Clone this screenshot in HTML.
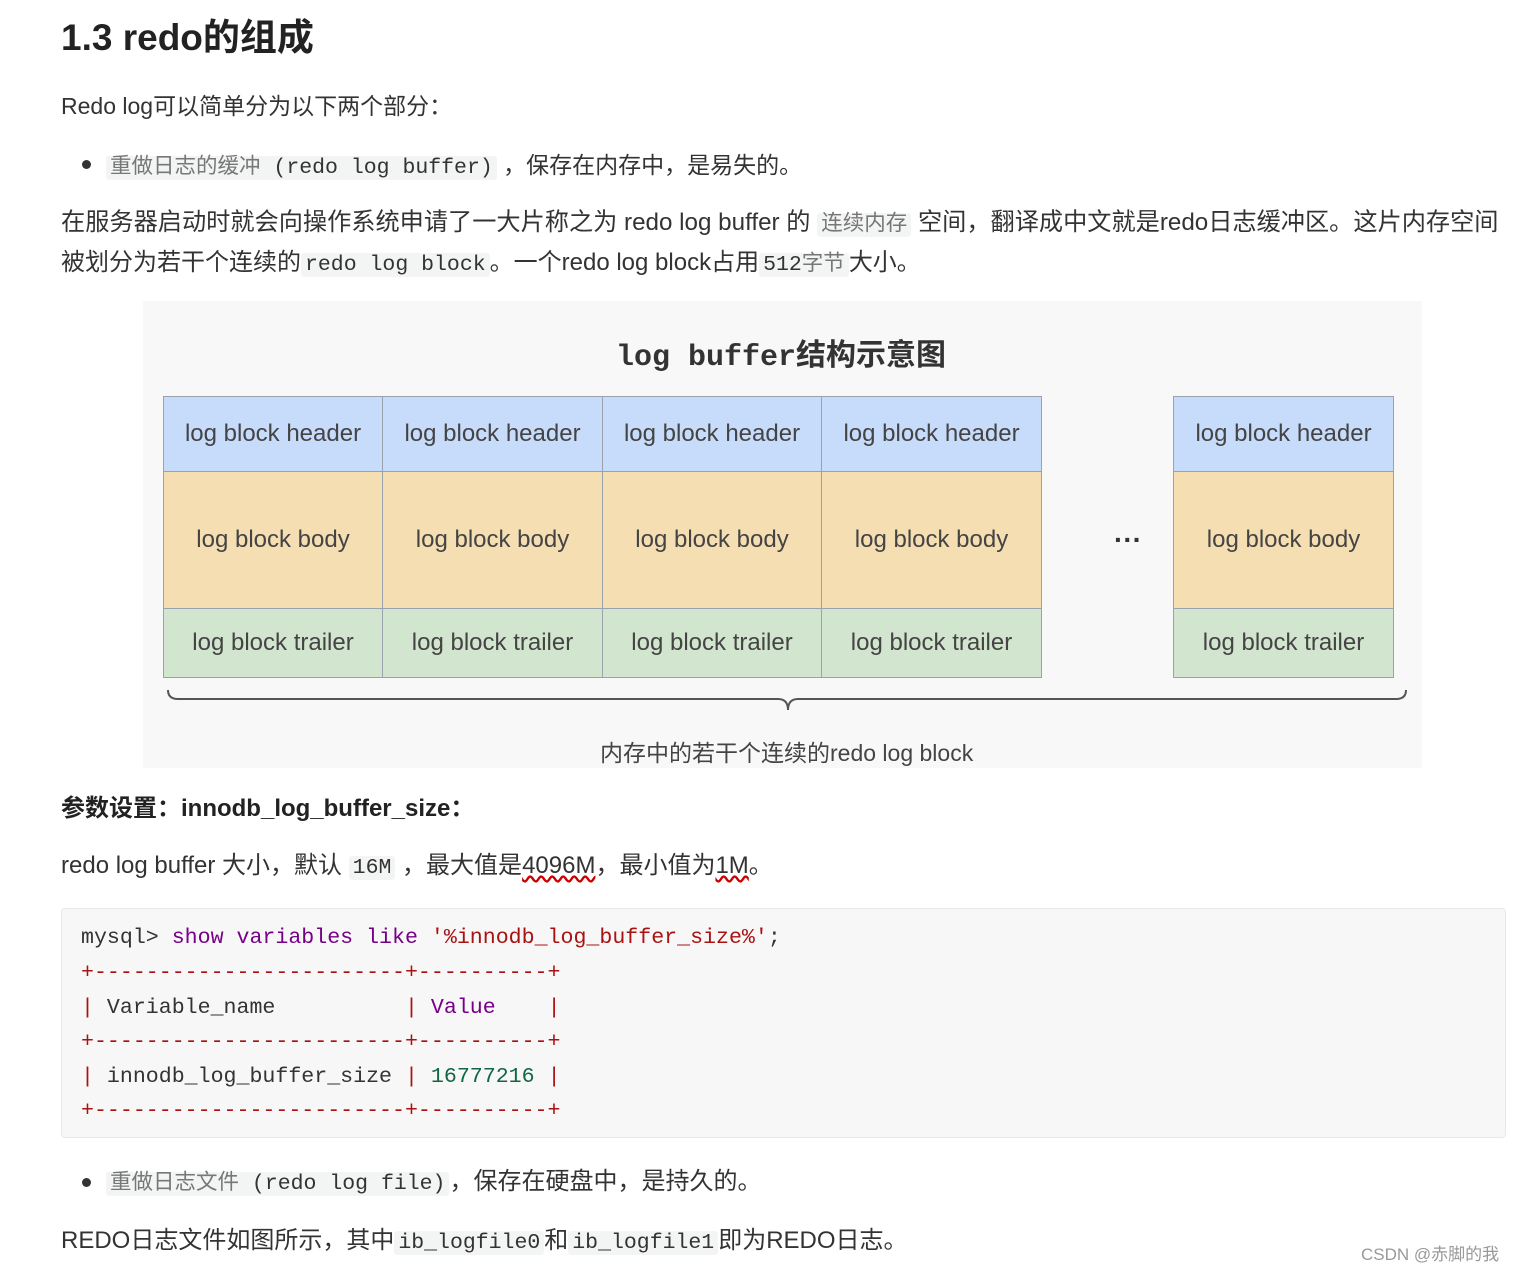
<!DOCTYPE html>
<html><head><meta charset="utf-8"><style>
body{margin:0;width:1513px;height:1269px;background:#fff;position:relative;overflow:hidden;font-family:"Liberation Sans","Noto Sans CJK SC",sans-serif;color:#333;}
.a{position:absolute;white-space:nowrap;}
.t{font-size:23px;line-height:32px;}
code{font-family:"Liberation Mono","Noto Sans CJK SC",monospace;background:#f3f4f4;border-radius:3px;padding:0 4px;font-size:21.5px;color:#333;}
.cg{color:#777;}
.dot{position:absolute;width:9px;height:9px;border-radius:50%;background:#333;}
.cell{position:absolute;box-sizing:border-box;border:1px solid #9aa3ad;display:flex;align-items:center;justify-content:center;font-size:24px;color:#444;}
.h{background:#c7dcfa;}.b{background:#f6deb3;}.r{background:#d2e5ce;}
.code{position:absolute;left:61px;top:908px;width:1445px;height:230px;background:#f7f7f7;border:1px solid #e8e8e8;border-radius:4px;box-sizing:border-box;}
.cl{position:absolute;left:19px;font-family:"Liberation Mono",monospace;font-size:21.6px;white-space:pre;color:#333;}
.kw{color:#770088}.st{color:#aa1111}.n{color:#116644}.p{color:#a11}
</style></head><body>
<div class="a" style="left:61px;top:14px;font-size:37px;font-weight:bold;color:#222;line-height:48px;">1.3 redo的组成</div>
<div class="a t" style="left:61px;top:90px;">Redo log可以简单分为以下两个部分：</div>
<div class="dot" style="left:82px;top:160px;"></div>
<div class="a t" style="left:106px;top:149px;"><code><span class="cg">重做日志的缓冲</span> (redo log buffer)</code> ，保存在内存中，是易失的。</div>
<div class="a t" style="left:61px;top:207px;font-size:24.2px;"><span>在服务器启动时就会向操作系统申请了一大片称之为 redo log buffer 的 <code class="cg">连续内存</code> 空间，翻译成中文就是redo日志缓冲区。这片内存空间</span></div>
<div class="a t" style="left:61px;top:247px;font-size:24px;">被划分为若干个连续的<code>redo log block</code>。一个redo log block占用<code>512<span class="cg">字节</span></code>大小。</div>

<div class="a" style="left:143px;top:301px;width:1279px;height:467px;background:#f8f8f8;"></div>
<div class="a" style="left:616px;top:330px;font-size:30px;font-weight:bold;color:#333;font-family:'Liberation Mono','Noto Sans CJK SC',monospace;">log buffer<span style="font-family:'Noto Sans CJK SC',sans-serif">结构示意图</span></div>

<div class="cell h" style="left:163px;top:396px;width:220px;height:76px;">log block header</div>
<div class="cell h" style="left:382px;top:396px;width:221px;height:76px;">log block header</div>
<div class="cell h" style="left:602px;top:396px;width:220px;height:76px;">log block header</div>
<div class="cell h" style="left:821px;top:396px;width:221px;height:76px;">log block header</div>
<div class="cell h" style="left:1173px;top:396px;width:221px;height:76px;">log block header</div>
<div class="cell b" style="left:163px;top:471px;width:220px;height:138px;">log block body</div>
<div class="cell b" style="left:382px;top:471px;width:221px;height:138px;">log block body</div>
<div class="cell b" style="left:602px;top:471px;width:220px;height:138px;">log block body</div>
<div class="cell b" style="left:821px;top:471px;width:221px;height:138px;">log block body</div>
<div class="cell b" style="left:1173px;top:471px;width:221px;height:138px;">log block body</div>
<div class="cell r" style="left:163px;top:608px;width:220px;height:70px;">log block trailer</div>
<div class="cell r" style="left:382px;top:608px;width:221px;height:70px;">log block trailer</div>
<div class="cell r" style="left:602px;top:608px;width:220px;height:70px;">log block trailer</div>
<div class="cell r" style="left:821px;top:608px;width:221px;height:70px;">log block trailer</div>
<div class="cell r" style="left:1173px;top:608px;width:221px;height:70px;">log block trailer</div>
<div class="a" style="left:1114px;top:524px;font-size:28px;color:#333;font-weight:bold;">···</div>
<svg class="a" style="left:143px;top:680px;" width="1279" height="40"><path d="M25 10 Q25 19 35 19 L635 19 Q645 19 645 30 Q645 19 655 19 L1253 19 Q1263 19 1263 10" fill="none" stroke="#555" stroke-width="2"/></svg>
<div class="a" style="left:600px;top:734px;font-size:23px;color:#444;">内存中的若干个连续的redo log block</div>

<div class="a t" style="left:61px;top:793px;font-weight:bold;color:#222;font-size:24px;">参数设置：innodb_log_buffer_size：</div>
<div class="a t" style="left:61px;top:850px;font-size:24px;">redo log buffer 大小，默认 <code>16M</code> ，最大值是<span style="text-decoration:underline wavy #c00;">4096M</span>，最小值为<span style="text-decoration:underline wavy #c00;">1M</span>。</div>

<div class="code">
<div class="cl" style="top:17px;">mysql&gt; <span class="kw">show variables like</span> <span class="st">'%innodb_log_buffer_size%'</span>;</div>
<div class="cl p" style="top:52px;">+------------------------+----------+</div>
<div class="cl" style="top:87px;"><span class="p">|</span> Variable_name          <span class="p">|</span> <span class="kw">Value</span>    <span class="p">|</span></div>
<div class="cl p" style="top:121px;">+------------------------+----------+</div>
<div class="cl" style="top:156px;"><span class="p">|</span> innodb_log_buffer_size <span class="p">|</span> <span class="n">16777216</span> <span class="p">|</span></div>
<div class="cl p" style="top:190px;">+------------------------+----------+</div>
</div>

<div class="dot" style="left:82px;top:1178px;"></div>
<div class="a t" style="left:106px;top:1166px;font-size:24px;"><code><span class="cg">重做日志文件</span> (redo log file)</code>，保存在硬盘中，是持久的。</div>
<div class="a t" style="left:61px;top:1225px;font-size:24px;">REDO日志文件如图所示，其中<code>ib_logfile0</code>和<code>ib_logfile1</code>即为REDO日志。</div>
<div class="a" style="left:1361px;top:1240px;font-size:17px;color:#999;">CSDN @赤脚的我</div>
</body></html>
